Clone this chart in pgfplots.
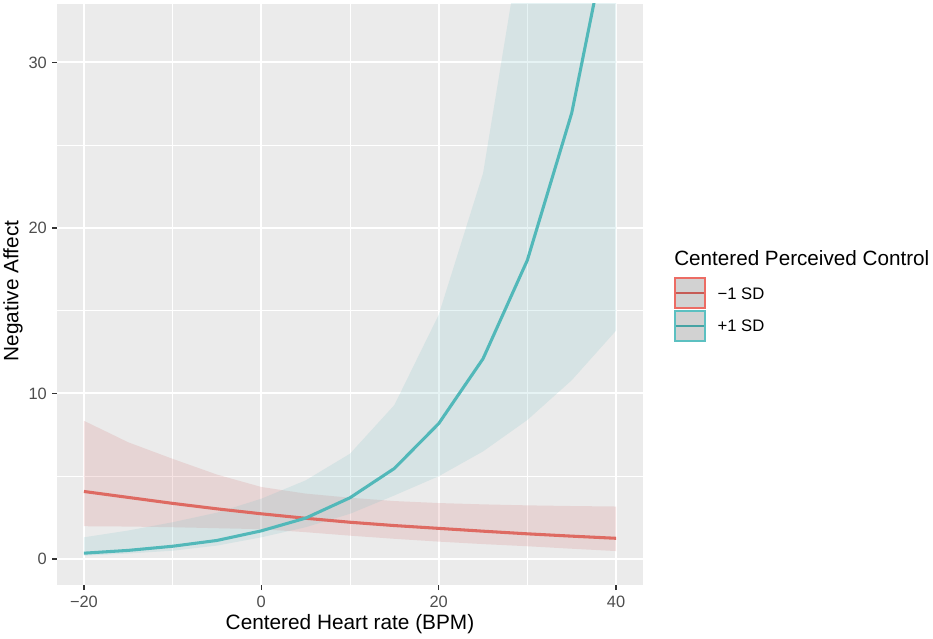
\documentclass[border=0pt]{standalone}
\usepackage{pgfplots}
\pgfplotsset{compat=1.18}
\usepackage{fontspec}
\setmainfont{Liberation Sans}
\definecolor{panelbg}{HTML}{EBEBEB}
\definecolor{tickc}{HTML}{333333}
\definecolor{ticklab}{HTML}{4D4D4D}
\definecolor{redline}{HTML}{DE6A62}
\definecolor{cyanline}{HTML}{52B8B9}
\definecolor{redfill}{HTML}{D27878}
\definecolor{cyanfill}{HTML}{82C3C8}
\definecolor{keyfill}{HTML}{D2D2D2}
\definecolor{redborder}{HTML}{EC6C64}
\definecolor{cyanborder}{HTML}{5CC0C1}
\definecolor{redkey}{HTML}{C65C56}
\definecolor{cyankey}{HTML}{46A3A4}
\begin{document}
\begin{tikzpicture}
\path[use as bounding box] (0,0) rectangle (699.75pt,479.25pt);
\begin{axis}[
  at={(42.98pt,40.5pt)}, anchor=south west,
  scale only axis, width=439.05pt, height=435.75pt,
  xmin=-23, xmax=43, ymin=-1.571, ymax=33.53,
  axis background/.style={fill=panelbg},
  axis x line*=bottom, axis y line*=left,
  axis line style={draw=none},
  xtick={-20,0,20,40}, xticklabels={−20,0,20,40},
  ytick={0,10,20,30}, yticklabels={0,10,20,30},
  minor xtick={-10,10,30}, minor ytick={5,15,25},
  grid=both,
  major grid style={draw=white, line width=1.5pt},
  minor grid style={draw=white, line width=0.75pt},
  tick align=outside,
  major tick length=3.9pt, minor tick length=0pt,
  major tick style={draw=tickc, line width=1.1pt},
  minor tick style={draw=none},
  ticklabel style={font=\fontsize{12.3}{14}\selectfont, text=ticklab},
  xticklabel style={anchor=base, inner sep=0pt, yshift=-12.8pt},
  yticklabel style={anchor=east, inner sep=0pt, xshift=-3.8pt},
  xlabel={Centered Heart rate (BPM)}, ylabel={Negative Affect},
  label style={font=\fontsize{15.6}{18}\selectfont},
  xlabel style={at={(axis description cs:0.5,-0.07745)}, anchor=base},
  ylabel style={at={(axis description cs:-0.0666,0.506)}, anchor=base},
  clip=true,
]
% -1 SD ribbon
\addplot[fill=redfill, fill opacity=0.2, draw=none] coordinates {
(-20,1.98) (-15,1.96) (-10,1.92) (-5,1.86) (0,1.80) (5,1.62) (10,1.41) (15,1.22) (20,1.05) (25,0.90) (30,0.77) (35,0.62) (40,0.48)
(40,3.17) (35,3.20) (30,3.24) (25,3.30) (20,3.38) (15,3.50) (10,3.70) (5,3.95) (0,4.35) (-5,5.10) (-10,6.05) (-15,7.05) (-20,8.35) (-20,1.98)};
% +1 SD ribbon
\addplot[fill=cyanfill, fill opacity=0.2, draw=none] coordinates {
(-20,0.20) (-15,0.33) (-10,0.50) (-5,0.81) (0,1.31) (5,1.92) (10,2.73) (15,3.84) (20,5.00) (25,6.50) (30,8.40) (35,10.8) (40,13.8)
(40,95) (35,62) (30,39.6) (25,23.3) (20,14.75) (15,9.3) (10,6.36) (5,4.75) (0,3.64) (-5,2.80) (-10,2.22) (-15,1.72) (-20,1.31) (-20,0.20)};
% -1 SD line
\addplot[redline, line width=2.3pt, line join=round] coordinates {
(-20,4.08) (-15,3.72) (-10,3.36) (-5,3.03) (0,2.73) (5,2.46) (10,2.22) (15,2.02) (20,1.85) (25,1.68) (30,1.52) (35,1.38) (40,1.25)};
% +1 SD line
\addplot[cyanline, line width=2.3pt, line join=round] coordinates {
(-20,0.35) (-15,0.52) (-10,0.77) (-5,1.12) (0,1.70) (5,2.47) (10,3.70) (15,5.47) (20,8.18) (25,12.1) (30,18.06) (35,26.95) (40,40.2)};
\end{axis}
\begin{scope}[x=0.75pt, y=-0.75pt, shift={(0pt,479.25pt)}]
\node[anchor=base west, inner sep=0pt, font=\fontsize{15.5}{18}\selectfont] at (674,265.3) {Centered Perceived Control};
\draw[draw=redborder, line width=1.5pt, fill=keyfill] (674.8,278) rectangle (705.2,307.8);
\draw[redkey, line width=2.2pt] (676,293) -- (704,293);
\draw[draw=cyanborder, line width=1.5pt, fill=keyfill] (674.8,311) rectangle (705.2,341);
\draw[cyankey, line width=2.2pt] (676,326) -- (704,326);
\node[anchor=west, inner sep=0pt, font=\fontsize{12.5}{15}\selectfont] at (717.3,293.3) {−1 SD};
\node[anchor=west, inner sep=0pt, font=\fontsize{12.5}{15}\selectfont] at (717.3,325.9) {+1 SD};
\end{scope}
\end{tikzpicture}
\end{document}
